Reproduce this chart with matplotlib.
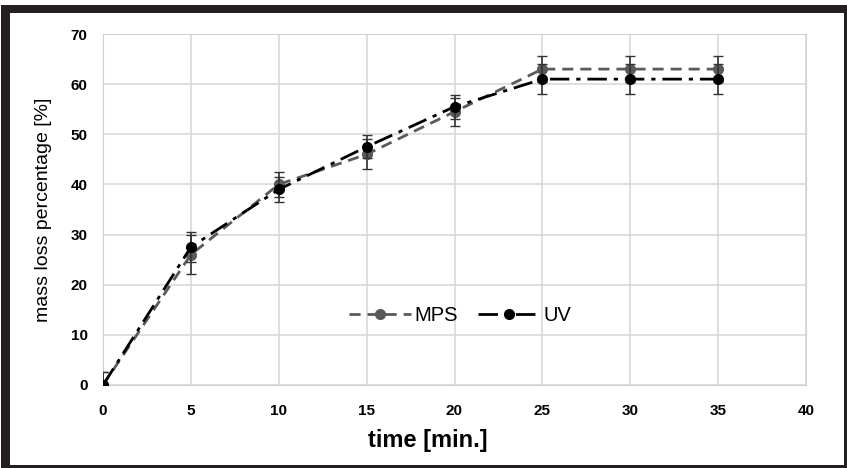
import matplotlib
matplotlib.use("Agg")
import matplotlib.pyplot as plt
from matplotlib.patches import Rectangle
from matplotlib.lines import Line2D

time = [0, 5, 10, 15, 20, 25, 30, 35]
mps = [0, 26, 40, 46, 54.5, 63, 63, 63]
uv = [0, 27.5, 39, 47.5, 55.5, 61, 61, 61]
mps_err = [2.6, 3.9, 2.5, 3.0, 2.8, 2.6, 2.6, 2.6]
uv_err = [2.6, 3.0, 2.5, 2.3, 2.4, 3.0, 3.0, 3.0]
xticks = [0, 5, 10, 15, 20, 25, 30, 35, 40]
yticks = [0, 10, 20, 30, 40, 50, 60, 70]

fam = ['Liberation Sans Narrow', 'Liberation Sans', 'DejaVu Sans']
plt.rcParams['font.family'] = fam

fig = plt.figure(figsize=(8.47, 4.68), dpi=100)
W, H = 847, 468

# frame: black band with white inner panel
fig.patches.append(Rectangle((1 / W, 0), 1, 1 - 5 / H, transform=fig.transFigure,
                             facecolor='#231f20', edgecolor='none', zorder=-10))
fig.patches.append(Rectangle((10 / W, 1 - 465 / H), (844 - 10) / W, (465 - 13) / H,
                             transform=fig.transFigure, facecolor='white',
                             edgecolor='none', zorder=-9))

ax = fig.add_axes([103 / W, 1 - 385 / H, (806 - 103) / W, (385 - 34) / H])
ax.patch.set_alpha(0)

mps_ls = (0, (4, 2.5))
uv_ls = (0, (7, 2.5, 1.5, 2.5))
ax.errorbar(time, mps, yerr=mps_err, color='#5a5a5a', ls=mps_ls, lw=2,
            marker='o', ms=7, capsize=3.5, elinewidth=1.2, ecolor='#333333',
            zorder=3)
ax.errorbar(time, uv, yerr=uv_err, color='black', ls=uv_ls, lw=2,
            marker='o', ms=7, capsize=3.5, elinewidth=1.2, ecolor='#333333',
            zorder=4)

ax.set_xlim(0, 40)
ax.set_ylim(0, 70)
ax.set_xticks(xticks)
ax.set_yticks(yticks)
ax.grid(True, color='#d9d9d9', lw=1.2)
ax.set_axisbelow(True)
for s in ax.spines.values():
    s.set_color('#d0d0d0')
ax.tick_params(axis='y', length=0, labelsize=11, pad=11)
ax.tick_params(axis='x', length=0, labelsize=11, pad=14)
for lab in ax.get_xticklabels() + ax.get_yticklabels():
    lab.set_fontweight('bold')
ax.set_xlabel('time [min.]', fontsize=17, fontweight='bold')
ax.xaxis.set_label_coords((428 - 103) / 703, -0.125)
ax.set_ylabel('mass loss percentage [%]', fontsize=14, fontweight='medium')
ax.yaxis.set_label_coords(-0.072, 0.5)

handles = [Line2D([], [], color='#5a5a5a', ls=mps_ls, lw=2, marker='o', ms=7),
           Line2D([], [], color='black', ls=uv_ls, lw=2, marker='o', ms=7)]
ax.legend(handles, ['MPS', 'UV'], loc='center', bbox_to_anchor=(0.508, 0.199),
          ncol=2, frameon=False, handlelength=3.1, columnspacing=1.0,
          handletextpad=0.15, prop={'size': 14.5, 'family': fam})

fig.savefig('out.png', dpi=100)
